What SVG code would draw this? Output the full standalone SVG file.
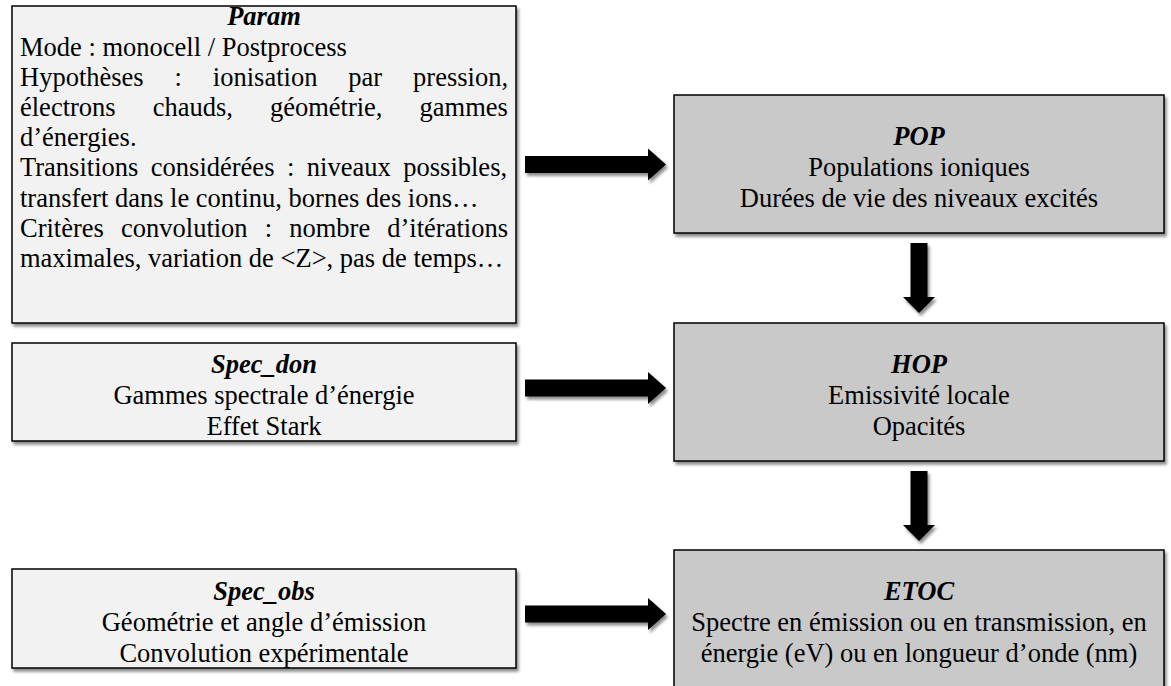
<svg xmlns="http://www.w3.org/2000/svg" width="1171" height="686" viewBox="0 0 1171 686">
<defs>
<filter id="sh" x="-10%" y="-10%" width="130%" height="130%">
<feDropShadow dx="2" dy="3" stdDeviation="1.5" flood-color="#000" flood-opacity="0.45"/>
</filter>
<style>
.in{fill:#f2f2f2;stroke:#000;stroke-width:1.5}
.out{fill:#c9c9c9;stroke:#000;stroke-width:1.5}
text{font-family:"Liberation Serif","Times New Roman",serif;font-size:26.5px;fill:#000}
.t{font-weight:bold;font-style:italic;text-anchor:middle}
.c{text-anchor:middle}
.arrow{fill:#000}
</style>
</defs>
<rect width="1171" height="686" fill="#fff"/>
<g id="param">
<rect class="in" x="12" y="6" width="504" height="317" filter="url(#sh)"/>
<text class="t" x="264" y="25">Param</text>
<text x="20" y="55.5">Mode : monocell / Postprocess</text>
<text x="20" y="85.7" word-spacing="24.3">Hypothèses : ionisation par pression,</text>
<text x="20" y="115.9" word-spacing="30.4">électrons chauds, géométrie, gammes</text>
<text x="20" y="146.1">d’énergies.</text>
<text x="20" y="176.3" word-spacing="5.9">Transitions considérées : niveaux possibles,</text>
<text x="20" y="206.5">transfert dans le continu, bornes des ions…</text>
<text x="20" y="236.7" word-spacing="10.5">Critères convolution : nombre d’itérations</text>
<text x="20" y="266.9">maximales, variation de &lt;Z&gt;, pas de temps…</text>
</g>
<g id="spec_don">
<rect class="in" x="12" y="343" width="504" height="98" filter="url(#sh)"/>
<text class="t" x="264" y="373">Spec_don</text>
<text class="c" x="264" y="404">Gammes spectrale d’énergie</text>
<text class="c" x="264" y="435">Effet Stark</text>
</g>
<g id="spec_obs">
<rect class="in" x="12" y="569" width="504" height="99" filter="url(#sh)"/>
<text class="t" x="264" y="600">Spec_obs</text>
<text class="c" x="264" y="631">Géométrie et angle d’émission</text>
<text class="c" x="264" y="662">Convolution expérimentale</text>
</g>
<g id="pop">
<rect class="out" x="674" y="95" width="490" height="138" filter="url(#sh)"/>
<text class="t" x="919" y="145">POP</text>
<text class="c" x="919" y="176">Populations ioniques</text>
<text class="c" x="919" y="207">Durées de vie des niveaux excités</text>
</g>
<g id="hop">
<rect class="out" x="674" y="323" width="490" height="138" filter="url(#sh)"/>
<text class="t" x="919" y="373">HOP</text>
<text class="c" x="919" y="404">Emissivité locale</text>
<text class="c" x="919" y="435">Opacités</text>
</g>
<g id="etoc">
<rect class="out" x="674" y="550" width="490" height="150" filter="url(#sh)"/>
<text class="t" x="919" y="600">ETOC</text>
<text class="c" x="919" y="631">Spectre en émission ou en transmission, en</text>
<text class="c" x="919" y="662">énergie (eV) ou en longueur d’onde (nm)</text>
</g>
<g id="connectors" class="arrow" filter="url(#sh)">
<path d="M525,156 H648 V148.5 L666,164.5 L648,180.5 V173 H525 Z"/>
<path d="M525,379.5 H648 V372 L666,388 L648,404 V396.5 H525 Z"/>
<path d="M525,605.5 H648 V598 L666,614 L648,630 V622.5 H525 Z"/>
<path d="M910.5,243 V297 H903 L919,313 L935,297 H927.5 V243 Z"/>
<path d="M910.5,471 V525 H903 L919,541 L935,525 H927.5 V471 Z"/>
</g>
</svg>
